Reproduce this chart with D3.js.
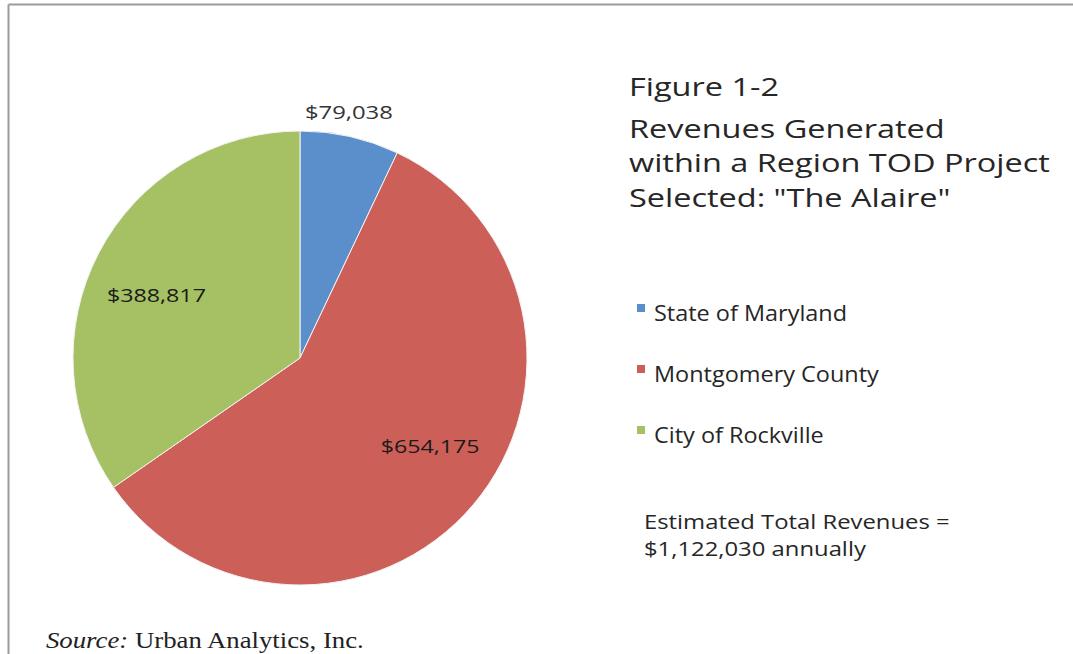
<!DOCTYPE html>
<html>
<head>
<meta charset="utf-8">
<script src="https://cdn.jsdelivr.net/npm/d3@7"></script>
<style>
  html, body { margin: 0; padding: 0; background: #fff; }
  svg { display: block; }
</style>
</head>
<body>
<svg id="chart" width="1073" height="654"></svg>
<script>
// ---- data ----
const categories = ["State of Maryland", "Montgomery County", "City of Rockville"];
const values = [79038, 654175, 388817];
const valueLabels = ["$79,038", "$654,175", "$388,817"];
const colors = ["#5b8fcb", "#cd5f59", "#a5c163"];
const titleLines = ["Figure 1-2", "Revenues Generated", "within a Region TOD Project", "Selected: \"The Alaire\""];
const noteLines = ["Estimated Total Revenues =", "$1,122,030 annually"];

const svg = d3.select("#chart");
const font = "'Open Sans', sans-serif";

// horizontal fit: scale a text element about its anchor so it has the target width
function fitX(sel, target, anchorX) {
  const w = sel.node().getComputedTextLength();
  const sx = target / w;
  sel.attr("transform", `translate(${anchorX},0) scale(${sx},1) translate(${-anchorX},0)`);
  return sx;
}

// frame lines
svg.append("line").attr("x1", 8.5).attr("y1", 4.5).attr("x2", 1073).attr("y2", 4.5)
  .attr("stroke", "#9a9a9a").attr("stroke-width", 2);
svg.append("line").attr("x1", 8.5).attr("y1", 4.5).attr("x2", 8.5).attr("y2", 654)
  .attr("stroke", "#9a9a9a").attr("stroke-width", 2);

// pie
const cx = 300, cy = 358, r = 227;
const pie = d3.pie().sort(null).value(d => d)(values);
const arc = d3.arc().innerRadius(0).outerRadius(r);
const g = svg.append("g").attr("transform", `translate(${cx},${cy})`);
g.selectAll("path").data(pie).join("path")
  .attr("d", arc)
  .attr("fill", (d, i) => colors[i])
  .attr("stroke", "#f3f3f3").attr("stroke-width", 1);

// data labels (Excel "best fit" style: small slice outside, others inside)
const inner = d3.arc().innerRadius(157).outerRadius(157);
const outer = d3.arc().innerRadius(250).outerRadius(250);
pie.forEach((d, i) => {
  const small = (d.endAngle - d.startAngle) < 0.6;
  // best-fit labels sit a little off the exact centroid
  const shifted = { startAngle: d.startAngle, endAngle: d.endAngle };
  if (!small) {
    const da = (d.endAngle - d.startAngle) * 0.03;
    shifted.startAngle -= da; shifted.endAngle -= da;
  }
  const c = small ? outer.centroid(d) : inner.centroid(shifted);
  const px = small ? c[0] - 6 : c[0];
  const py = small ? c[1] - 3 : c[1];
  const t = g.append("text")
    .attr("x", px).attr("y", py)
    .attr("text-anchor", "middle")
    .attr("dominant-baseline", "central")
    .attr("font-family", font)
    .attr("font-size", 19)
    .attr("fill", small ? "#333" : "#1a1a1a")
    .text(valueLabels[i]);
  fitX(t, small ? 88 : 99, px);
});

// title
const ty = [96, 138, 172, 207];
const titleG = svg.append("g");
titleLines.forEach((t, i) => {
  titleG.append("text").attr("x", 629).attr("y", ty[i])
    .attr("font-family", font).attr("font-size", 26).attr("fill", "#262626").text(t);
});
const titleTexts = titleG.selectAll("text");
const longestW = titleTexts.nodes()[2].getComputedTextLength();
const tsx = 421 / longestW;
titleTexts.attr("transform", `translate(629,0) scale(${tsx},1) translate(-629,0)`);

// legend
const ly = [313, 374, 435];
const leg = svg.append("g");
categories.forEach((c, i) => {
  leg.append("rect").attr("x", 637).attr("y", ly[i] - 9).attr("width", 8).attr("height", 8)
    .attr("fill", colors[i]);
  leg.append("text").attr("x", 654).attr("y", ly[i]).attr("dominant-baseline", "central")
    .attr("font-family", font).attr("font-size", 21).attr("fill", "#262626").text(c);
});
const legTexts = leg.selectAll("text");
const lw = legTexts.nodes()[1].getComputedTextLength();
legTexts.attr("transform", `translate(654,0) scale(${225 / lw},1) translate(-654,0)`);

// note
const ny = [521, 548];
const note = svg.append("g");
noteLines.forEach((t, i) => {
  note.append("text").attr("x", 644).attr("y", ny[i]).attr("dominant-baseline", "central")
    .attr("font-family", font).attr("font-size", 19.5).attr("fill", "#262626").text(t);
});
const nw = note.select("text").node().getComputedTextLength();
note.selectAll("text").attr("transform", `translate(644,0) scale(${306 / nw},1) translate(-644,0)`);

// source
const src = svg.append("text").attr("x", 46).attr("y", 648)
  .attr("font-family", "'Liberation Serif', 'Times New Roman', serif")
  .attr("font-size", 24).attr("fill", "#222");
src.append("tspan").attr("font-style", "italic").text("Source:");
src.append("tspan").text(" Urban Analytics, Inc.");
fitX(src, 318, 46);
</script>
</body>
</html>
